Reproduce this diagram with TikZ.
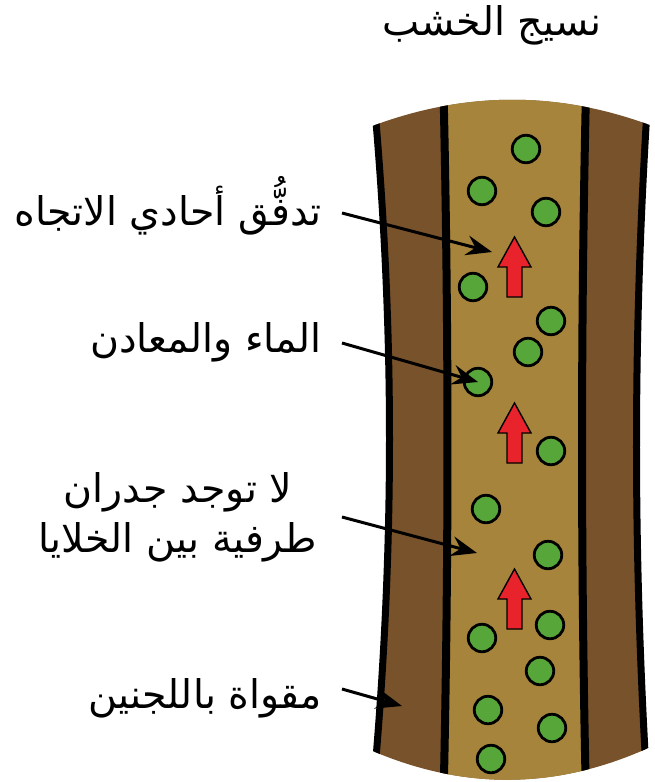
\documentclass[tikz,border=0pt]{standalone}
\usepackage{fontspec}
\newfontfamily\arabicfont[Script=Arabic]{DejaVu Sans}
\TeXXeTstate=1
\usetikzlibrary{arrows.meta}

\definecolor{barkbrown}{HTML}{78522A}
\definecolor{lumenbrown}{HTML}{A6843B}
\definecolor{solutegreen}{HTML}{57A639}
\definecolor{flowred}{HTML}{E8232B}

\tikzset{
  label text/.style={font=\arabicfont\fontsize{39.5}{50}\selectfont, inner sep=0pt, text=black},
  solute/.style={circle, draw=black, line width=2.8pt, fill=solutegreen, minimum size=27.5pt, inner sep=0pt},
  pointer/.style={line width=3pt, -{Stealth[length=26pt, width=20pt, inset=9pt]}},
  wall/.style={line width=7pt, line cap=butt},
  inner wall/.style={line width=8pt, line cap=butt},
  flowarrow/.pic={
    \draw[fill=flowred, draw=black, line width=1.4pt, line join=miter]
      (0,-30) -- (16.5,0) -- (7.5,0) -- (7.5,30) -- (-7.5,30) -- (-7.5,0) -- (-16.5,0) -- cycle;
  }
}

\begin{document}
\begin{tikzpicture}[x=1pt, y=-1pt]
\useasboundingbox (0,0) rectangle (654,782);

% outline of the vessel segment
\def\tubepath{(375,125) .. controls (465.67,91.67) and (556.33,91.33) .. (647,124)
  .. controls (633.33,332.67) and (633,541) .. (646,749)
  .. controls (556,789) and (465.67,790) .. (375,752)
  .. controls (394.33,543.33) and (394.33,334.33) .. cycle}

\fill[barkbrown] \tubepath;

% lumen between the inner walls
\begin{scope}
  \clip \tubepath;
  \fill[lumenbrown] (443.5,90) .. controls (448.8,330) and (448.8,560) .. (443.5,800)
    -- (586,800) .. controls (580.7,560) and (580.7,330) .. (586,90) -- cycle;
\end{scope}

% walls, cut off by the curved ends
\begin{scope}
  \clip (347,135.3) -- (375,125) .. controls (465.67,91.67) and (556.33,91.33) .. (647,124)
    -- (675,134) -- (673.4,736.8) -- (646,749)
    .. controls (556,789) and (465.67,790) .. (375,752) -- (347.3,740.4) -- cycle;
  \draw[wall] (375,110) .. controls (394.33,334.33) and (394.33,543.33) .. (375,770);
  \draw[wall] (647,110) .. controls (633.33,332.67) and (633,541) .. (646,770);
  \draw[inner wall] (443.5,90) .. controls (448.8,330) and (448.8,560) .. (443.5,800);
  \draw[inner wall] (586,90) .. controls (580.7,330) and (580.7,560) .. (586,800);
\end{scope}

% upward flow
\pic at (514.5,267) {flowarrow};
\pic at (514.5,433) {flowarrow};
\pic at (514.5,599) {flowarrow};

% water and minerals
\node[solute] (c1)  at (526,149) {};
\node[solute] (c2)  at (482,191) {};
\node[solute] (c3)  at (546,212) {};
\node[solute] (c4)  at (473,287) {};
\node[solute] (c5)  at (551,321) {};
\node[solute] (c6)  at (528,352) {};
\node[solute] (c7)  at (478,382) {};
\node[solute] (c8)  at (551,451) {};
\node[solute] (c9)  at (486,509) {};
\node[solute] (c10) at (548,555) {};
\node[solute] (c11) at (550,625) {};
\node[solute] (c12) at (482,638) {};
\node[solute] (c13) at (540,671) {};
\node[solute] (c14) at (488,710) {};
\node[solute] (c15) at (552,728) {};
\node[solute] (c16) at (491,759) {};

% labels
\node[label text, anchor=base] (title) at (492,35) {\beginR نسيج الخشب\endR};
\node[label text, anchor=base east] (lab1) at (322,225) {\beginR تدفُّق أحادي الاتجاه\endR};
\node[label text, anchor=base east] (lab2) at (322,352) {\beginR الماء والمعادن\endR};
\node[label text, anchor=base, align=center] (lab3) at (178,552)
  {\beginR لا توجد جدران\endR\\\beginR طرفية بين الخلايا\endR};
\node[label text, anchor=base east] (lab4) at (322,708) {\beginR مقواة باللجنين\endR};

% pointer lines
\coordinate (s1) at (342,213);
\coordinate (t1) at (492,252);
\coordinate (s2) at (342,343);
\coordinate (s3) at (342,517);
\coordinate (t3) at (477,553);
\coordinate (s4) at (342,689);
\coordinate (t4) at (402,706);

\draw[pointer] (s1) -- (t1);
\draw[pointer] (s2) -- (c7.center);
\draw[pointer] (s3) -- (t3);
\draw[pointer] (s4) -- (t4);
\end{tikzpicture}
\end{document}
